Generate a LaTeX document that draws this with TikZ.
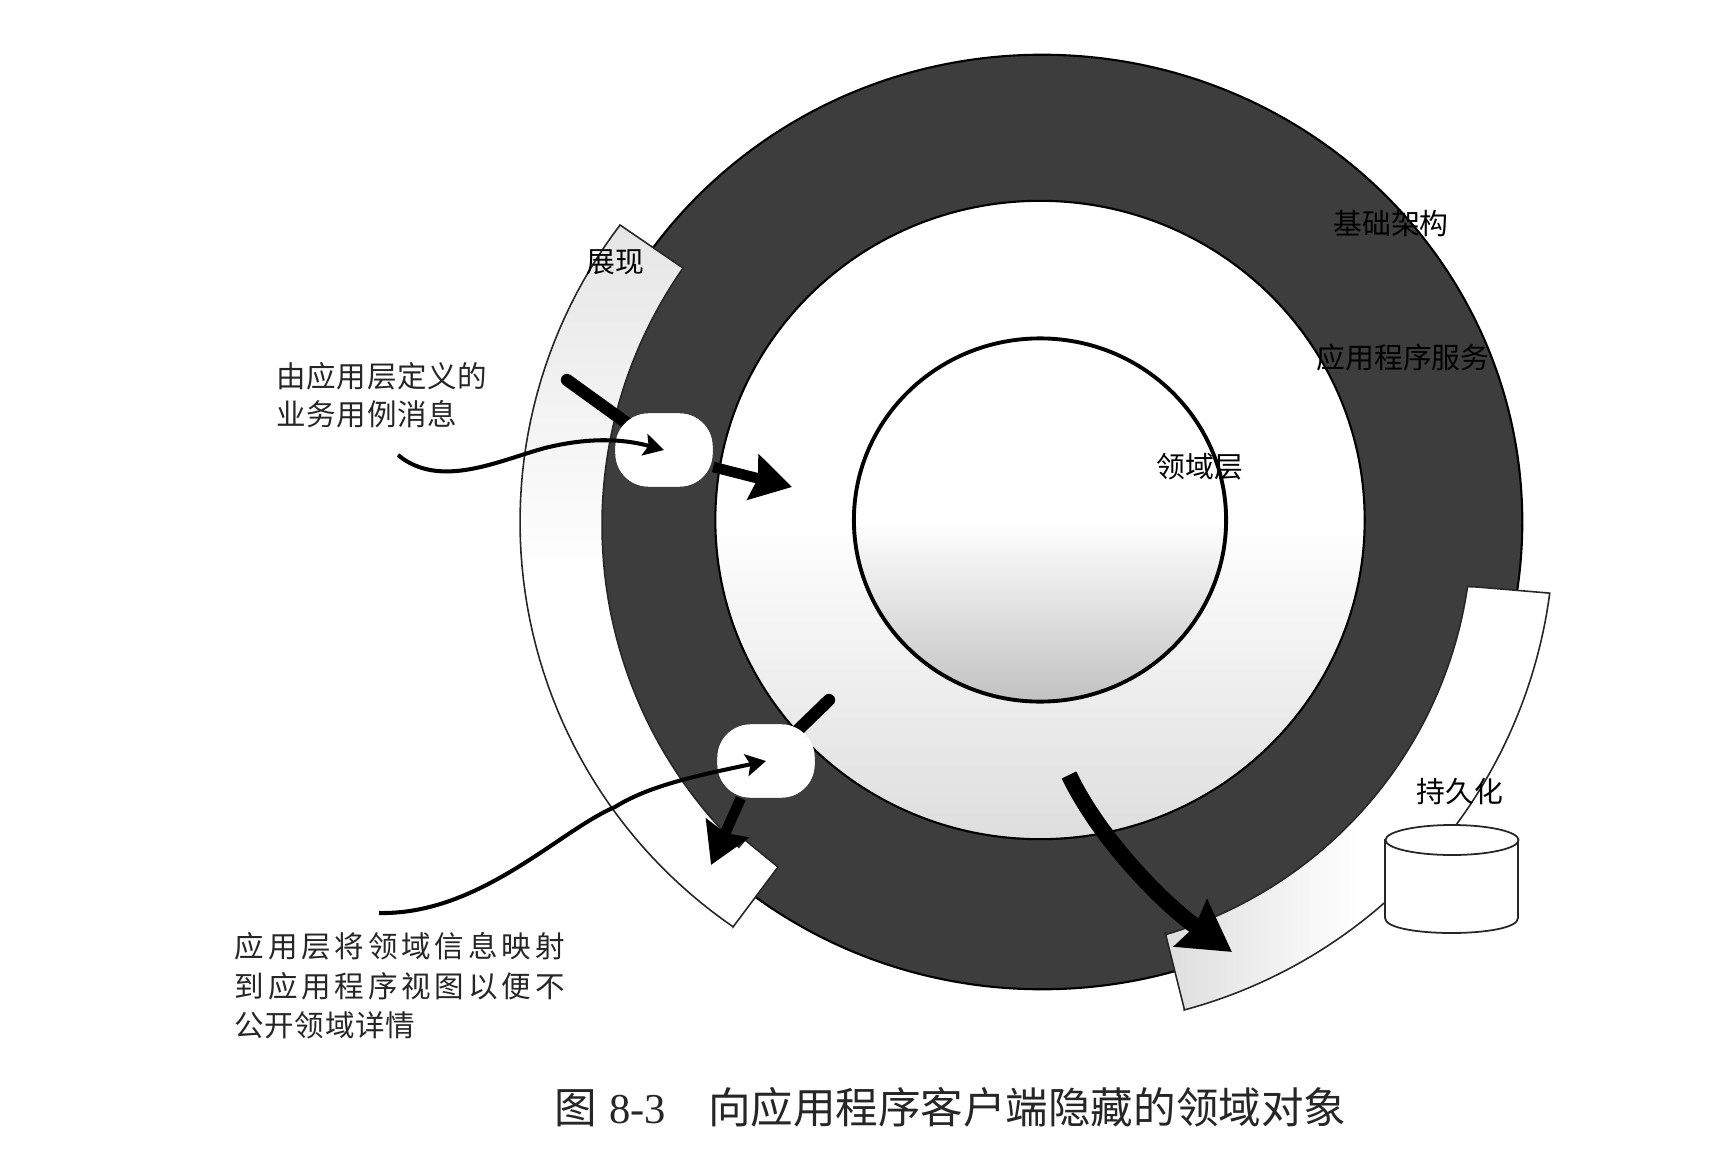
\documentclass[tikz,border=0pt]{standalone}
\usepackage{fontspec}
\setmainfont{Liberation Serif}
\newfontfamily\cjk{Noto Sans CJK SC}
\newfontfamily\cjkmid[LetterSpace=2]{Noto Sans CJK SC}
\newfontfamily\cjkwide[LetterSpace=13]{Noto Sans CJK SC}
\usetikzlibrary{shapes.geometric, shapes.misc, positioning, arrows.meta}
\colorlet{bandcolor}{black!76}
\tikzset{ringline/.style={ellipse, draw=black, line width=0.6pt, inner sep=0pt}}
\tikzset{strip/.style={draw=black!85, line width=0.45pt}}
\tikzset{ringtext/.style={font=\cjk\fontsize{8.2}{10}\selectfont, inner sep=0pt}}
\tikzset{notetext/.style={inner sep=0pt, align=left, anchor=west, text=black!85}}
\tikzset{blob/.style={rectangle, rounded corners=0.33cm, fill=white, inner sep=0pt, minimum width=0.97cm, minimum height=0.73cm}}
\tikzset{bigarrow/.style={line width=3pt, -{Stealth[length=4mm, width=4.6mm, inset=0.5mm]}}}
\tikzset{stub/.style={line width=3.5pt, line cap=round}}
\tikzset{curvearrow/.style={line width=1.15pt, -{Stealth[length=2mm, width=2.2mm, inset=0.4mm]}}}
\begin{document}
\begin{tikzpicture}[x=0.01cm, y=-0.01cm]
\useasboundingbox (0,0) rectangle (1716,1152);
% rings
\node[ringline, fill=bandcolor, minimum width=9.6cm, minimum height=9.34cm] (band) at (1042,522) {};
\node[ringline, top color=white, bottom color=gray!26, middle color=white, minimum width=6.49cm, minimum height=6.38cm] (app) at (1040,520) {};
\node[ringline, line width=1.1pt, top color=white, bottom color=gray!48, middle color=white, minimum width=3.72cm, minimum height=3.63cm] (domain) at (1040,520) {};
% strips
\path[strip, top color=gray!20, bottom color=white, middle color=white] (620,225) -- (683,268)
  -- plot[domain=215:134, samples=60] ({1050+448*cos(\x)},{525+448*sin(\x)})
  -- (745,840) -- (778,867) -- (733,927)
  -- plot[domain=124.5:217.2, samples=60] ({1011+491*cos(\x)},{522+491*sin(\x)}) -- cycle;
\path[strip, left color=gray!26, right color=white, middle color=white] (1165,932) -- (1184,1008)
  -- plot[domain=75:7.5, samples=60] ({1055+499*cos(\x)},{528+499*sin(\x)})
  -- (1477,587)
  -- plot[domain=8.3:73.6, samples=60] ({1045+427*cos(\x)},{525+427*sin(\x)}) -- cycle;
% store
\coordinate (store) at (1452,840);
\draw[draw=black!85, line width=0.5pt, fill=white] (1385,840) -- (1385,918) .. controls (1385,938) and (1518,938) .. (1518,918) -- (1518,840) -- cycle;
\draw[draw=black!85, line width=0.5pt, fill=white] (store) ellipse [x radius=66.5, y radius=15];
% free ends
\coordinate (stubA) at (567,380);
\coordinate (stubB) at (829,700);
\coordinate (tipA) at (792,487);
\coordinate (tipB) at (711,865);
\coordinate (startBig) at (1069,775);
\coordinate (tipBig) at (1232,952);
\coordinate (startA) at (398,455);
\coordinate (startB) at (379,913);
\node[blob] (blobA) at (664,450) {};
\node[blob] (blobB) at (766,761) {};
\draw[stub] (stubA) -- (blobA.center);
\draw[stub] (stubB) -- (blobB.center);
\node[blob] at (blobA) {};
\node[blob] at (blobB) {};
\draw[bigarrow] (blobA.east |- 717,467) -- (tipA);
\draw[bigarrow] (blobB.south west) ++(24,0) -- (tipB);
\draw[bigarrow, line width=4.6pt, -{Stealth[length=5mm, width=5.6mm, inset=0.5mm]}] (startBig) .. controls (1100,840) and (1165,905) .. (tipBig);
\draw[curvearrow] (startA) .. controls (440,490) and (500,460) .. (545,448) .. controls (585,438) and (620,438) .. (blobA.center);
\draw[curvearrow] (startB) .. controls (480,915) and (560,830) .. (615,807) .. controls (650,785) and (700,775) .. (blobB.center);
% labels
\node[ringtext] (lblshow) at (615,262) {展现};
\node[ringtext] (lblinfra) at (1391,224) {基础架构};
\node[ringtext] (lblservice) at (1403,358) {应用程序服务};
\node[ringtext] (lbldomain) at (1200,467) {领域层};
\node[ringtext] (lblstore) at (1460,792) {持久化};
\node[notetext, font=\cjkmid\fontsize{8.4}{10.9}\selectfont] (noteA) at (276,395) {由应用层定义的\\业务用例消息};
\node[notetext, font=\cjkwide\fontsize{8.4}{11.2}\selectfont] (noteB) at (234,986) {应用层将领域信息映射\\到应用程序视图以便不\\{\cjkmid 公开领域详情}};
\node[inner sep=0pt, anchor=west, font=\fontsize{12.1}{14}\selectfont, text=black!85] (caption) at (554,1107) {{\cjk 图}\hspace{1.2mm}8-3\hspace{4.2mm}{\cjk 向应用程序客户端隐藏的领域对象}};
\end{tikzpicture}
\end{document}
